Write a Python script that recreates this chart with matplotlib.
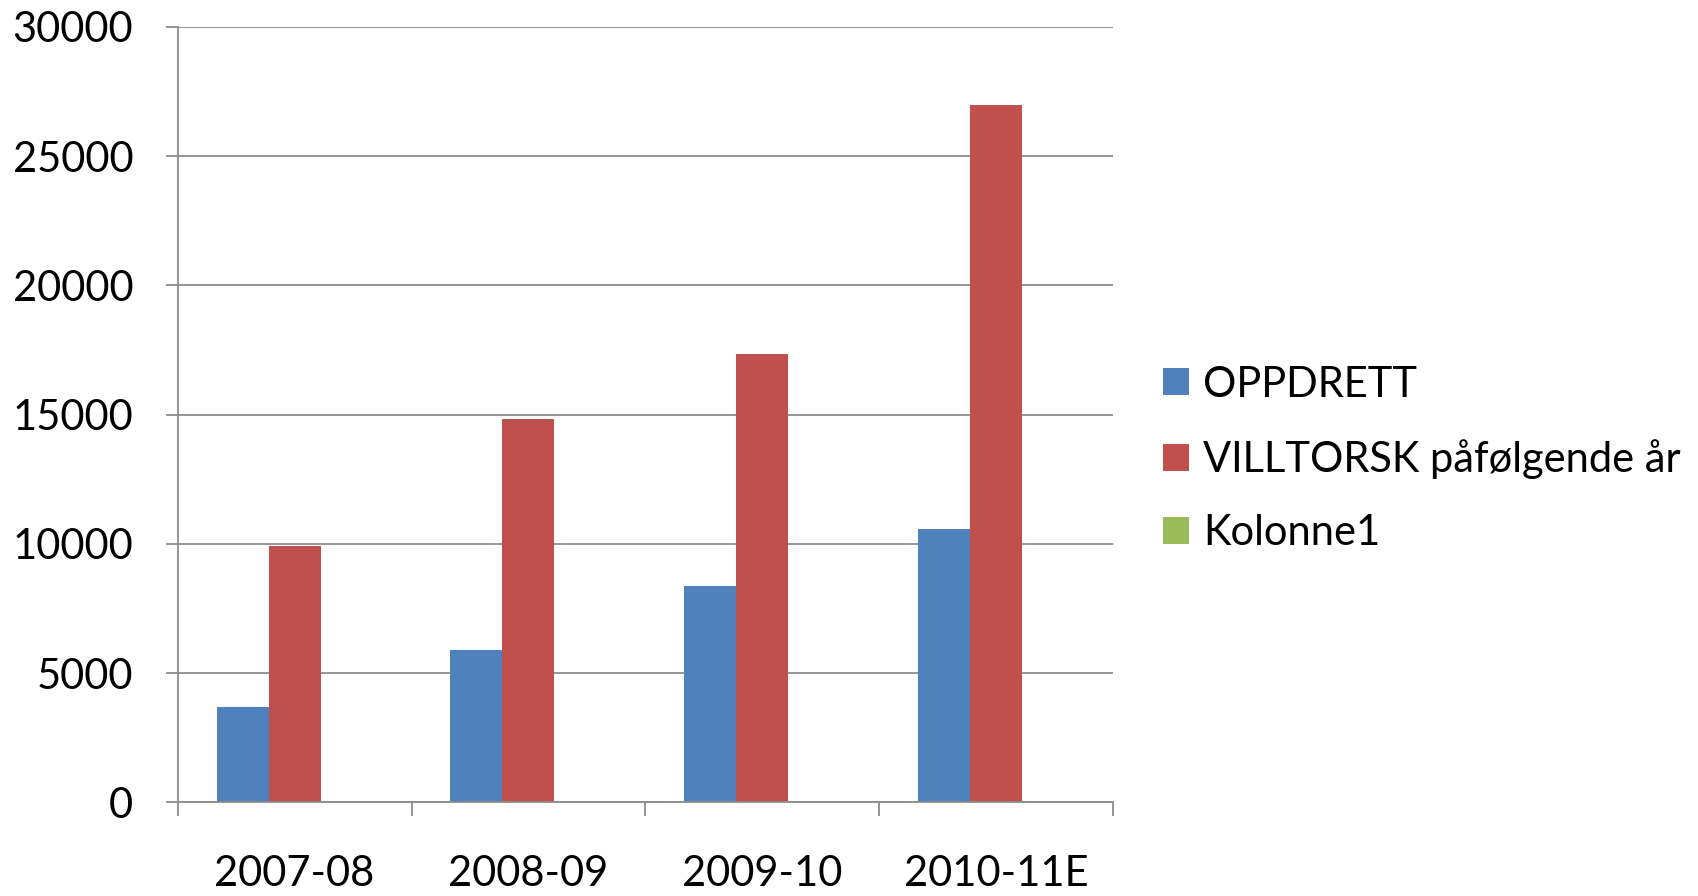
import matplotlib
matplotlib.use("Agg")
import matplotlib.pyplot as plt
import numpy as np

BLUE, RED, GREEN, GRID = "#4F81BD", "#C0504D", "#9BBB59", "#8C8C8C"

seasons = ["2007-08", "2008-09", "2009-10", "2010-11E"]
oppdrett = [3700, 5900, 8380, 10560]
villtorsk = [9930, 14830, 17340, 27000]
kolonne1 = [0, 0, 0, 0]
yticks = [0, 5000, 10000, 15000, 20000, 25000, 30000]

plt.rcParams["font.family"] = ["Lato", "DejaVu Sans"]

fig = plt.figure(figsize=(16.98, 8.96), dpi=100)
ax = fig.add_axes([0.1046, 0.1044, 0.551, 0.8655])

x = np.arange(len(seasons))
w = 1 / 4.5
ax.bar(x - w, oppdrett, w, color=BLUE, label="OPPDRETT", zorder=3)
ax.bar(x, villtorsk, w, color=RED, label="VILLTORSK påfølgende år", zorder=3)
ax.bar(x + w, kolonne1, w, color=GREEN, label="Kolonne1", zorder=3, linewidth=0)

ax.set_xlim(-0.5, len(seasons) - 0.5)
ax.set_ylim(0, 30000)
ax.set_yticks(yticks)
ax.set_yticklabels([str(v) for v in yticks])
ax.set_xticks(x)
ax.set_xticklabels(seasons)
ax.set_xticks(np.arange(len(seasons) + 1) - 0.5, minor=True)
ax.tick_params(axis="x", which="major", length=0, pad=38, labelsize=30)
ax.tick_params(axis="x", which="minor", length=10, width=1.3, color=GRID, direction="out")
ax.tick_params(axis="y", length=9, width=1.3, color=GRID, labelsize=30, pad=23)
ax.yaxis.grid(True, color=GRID, lw=1.3, zorder=0)
for s in ("top", "right"):
    ax.spines[s].set_visible(False)
for s in ("left", "bottom"):
    ax.spines[s].set_color(GRID)
    ax.spines[s].set_linewidth(1.3)
ax.spines["bottom"].set_zorder(4)

ax.legend(loc="center left", bbox_to_anchor=(1.013, 0.443), frameon=False, fontsize=30,
          handlelength=0.62, handleheight=0.62, handletextpad=0.34, labelspacing=0.85)

fig.savefig("out.png", dpi=100, facecolor="white")
